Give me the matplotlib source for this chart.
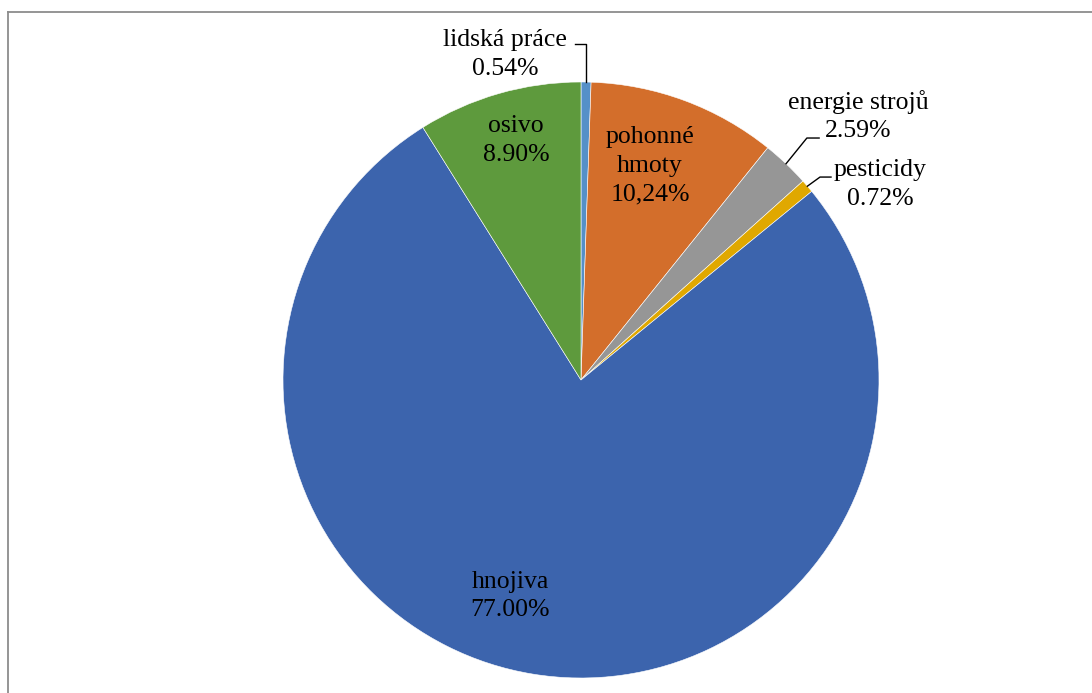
import numpy as np
import matplotlib
matplotlib.use("Agg")
import matplotlib.pyplot as plt
from matplotlib.lines import Line2D

# Energy input shares, clockwise from 12 o'clock
labels = ["lidská práce", "pohonné\nhmoty", "energie strojů", "pesticidy", "hnojiva", "osivo"]
shares = [0.54, 10.24, 2.59, 0.72, 77.00, 8.90]
share_text = ["0.54%", "10,24%", "2.59%", "0.72%", "77.00%", "8.90%"]
colors = ["#5590C8", "#D36E2B", "#969696", "#E0A800", "#3C64AD", "#5E9A3D"]

# Label anchors in radius units relative to the pie centre
label_pos = [(-0.255, 1.091), (0.232, 0.718), (0.93, 0.886),
             (1.003, 0.656), (-0.238, -0.725), (-0.218, 0.804)]
# Leader-line knees and ends for the labels that sit outside the pie
leaders = {0: [(0.017, 1.128), (-0.020, 1.128)],
           2: [(0.758, 0.812), (0.799, 0.812)],
           3: [(0.802, 0.681), (0.839, 0.681)]}

W, H = 1092, 693
CX, CY, R = 581, 380, 298

plt.rcParams["font.family"] = ["Liberation Serif", "DejaVu Serif"]
fig = plt.figure(figsize=(W / 100, H / 100), dpi=100)
fig.patch.set_facecolor("white")

ax = fig.add_axes([(CX - R) / W, (H - CY - R) / H, 2 * R / W, 2 * R / H])
ax.pie(shares, colors=colors, startangle=90, counterclock=False, radius=1,
       wedgeprops=dict(edgecolor="white", linewidth=0.4))
ax.set_xlim(-1, 1)
ax.set_ylim(-1, 1)
ax.set_aspect("equal")
ax.axis("off")

# mid angle of each wedge, measured clockwise from the top
cum = np.cumsum([0] + shares[:-1])
mids = (cum + np.array(shares) / 2) / sum(shares) * 360

for i, (lab, pct) in enumerate(zip(labels, share_text)):
    x, y = label_pos[i]
    ax.text(x, y, f"{lab}\n{pct}", ha="center", va="center", fontsize=18.5,
            color="black", linespacing=1.4, clip_on=False)
    if i in leaders:
        a = np.deg2rad(mids[i])
        pts = [(np.sin(a), np.cos(a))] + leaders[i]
        if i == 0:
            pts = [(leaders[i][0][0], np.cos(a))] + leaders[i]
        xs, ys = zip(*pts)
        ax.plot(xs, ys, color="black", linewidth=1.0, clip_on=False)

# chart area border (open to the right and bottom)
x0 = 7.5 / W
y0 = 1 - 11.5 / H
fig.add_artist(Line2D([x0, 1], [y0, y0], color="#8c8c8c", linewidth=1.3,
                      transform=fig.transFigure))
fig.add_artist(Line2D([x0, x0], [0, y0], color="#8c8c8c", linewidth=1.3,
                      transform=fig.transFigure))

fig.savefig("out.png", dpi=100, facecolor="white")
